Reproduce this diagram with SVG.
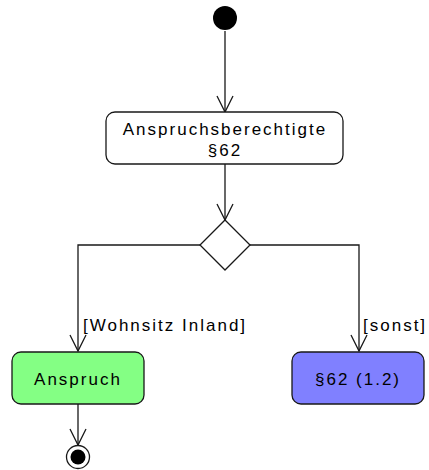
<svg xmlns="http://www.w3.org/2000/svg" width="429" height="470" viewBox="0 0 429 470">
  <defs>
    <!-- open V arrowhead, drawn along +x so orient="auto" follows the line -->
    <marker id="open-arrow" viewBox="0 0 20 20" refX="18" refY="10" markerWidth="20" markerHeight="20" markerUnits="userSpaceOnUse" orient="auto">
      <path d="M2,2 L18,10 L2,18" fill="none" stroke="#181818" stroke-width="1.3"/>
    </marker>
  </defs>
  <style>
    .edge { fill: none; stroke: #181818; stroke-width: 1.3; }
    .box { stroke: #181818; stroke-width: 1.3; }
    .lbl { font-family: "Liberation Sans", Arial, sans-serif; font-size: 17px; letter-spacing: 2px; fill: #000; }
    .mid { text-anchor: middle; }
  </style>
  <rect width="429" height="470" fill="#fff"/>

  <g id="connectors">
    <path class="edge" d="M225,31 L225,112" marker-end="url(#open-arrow)"/>
    <path class="edge" d="M225,164 L225,220" marker-end="url(#open-arrow)"/>
    <path class="edge" d="M200,245 L78,245 L78,351" marker-end="url(#open-arrow)"/>
    <path class="edge" d="M250,245 L359,245 L359,351" marker-end="url(#open-arrow)"/>
    <path class="edge" d="M78,404 L78,445" marker-end="url(#open-arrow)"/>
    <text class="lbl" x="83" y="331">[Wohnsitz Inland]</text>
    <text class="lbl" x="363" y="331">[sonst]</text>
  </g>

  <g id="start">
    <circle cx="225" cy="18" r="12" fill="#000"/>
  </g>

  <g id="anspruchsberechtigte">
    <rect class="box" x="106" y="112" width="237" height="52" rx="9" fill="#fff"/>
    <text class="lbl mid" x="225" y="135">Anspruchsberechtigte</text>
    <text class="lbl mid" x="225" y="156">§62</text>
  </g>

  <g id="decision">
    <path class="box" d="M225,220 L250,245 L225,270 L200,245 Z" fill="#fff"/>
  </g>

  <g id="anspruch">
    <rect class="box" x="12" y="352" width="132" height="52" rx="9" fill="#84FF84"/>
    <text class="lbl mid" x="78" y="385">Anspruch</text>
  </g>

  <g id="sonst">
    <rect class="box" x="292" y="352" width="132" height="52" rx="9" fill="#8080FF"/>
    <text class="lbl mid" x="358" y="385">§62 (1.2)</text>
  </g>

  <g id="end">
    <circle cx="78" cy="457" r="11.5" fill="#fff" stroke="#181818" stroke-width="1.3"/>
    <circle cx="78" cy="457" r="7.5" fill="#000"/>
  </g>
</svg>
